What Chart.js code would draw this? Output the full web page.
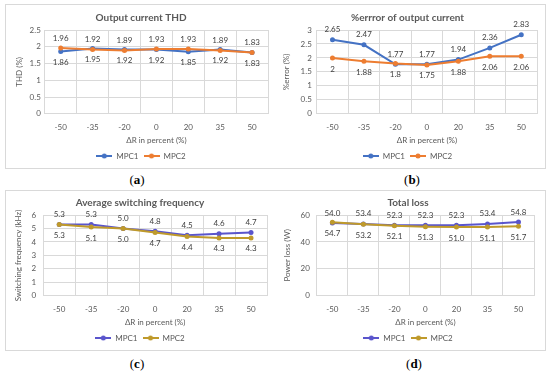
<!DOCTYPE html>
<html>
<head>
<meta charset="utf-8">
<script src="https://cdn.jsdelivr.net/npm/chart.js@4/dist/chart.umd.min.js"></script>
<style>
  body { margin: 0; background: #fff; width: 550px; height: 372px; position: relative; overflow: hidden; }
  .box { position: absolute; border: 1px solid #d9d9d9; background: #fff; overflow: hidden; }
  .box canvas { display: block; }
  .cap { position: absolute; width: 60px; text-align: center; font-family: "Liberation Serif", serif; font-size: 13px; color: #000; }
</style>
</head>
<body>
<div class="box" style="left:5px;top:4px;width:269px;height:163px;"><canvas id="chartA" width="269" height="165"></canvas></div>
<div class="box" style="left:275px;top:4px;width:270px;height:163px;border-left:none;"><canvas id="chartB" width="270" height="165"></canvas></div>
<div class="box" style="left:5px;top:190px;width:269px;height:159px;"><canvas id="chartC" width="269" height="161"></canvas></div>
<div class="box" style="left:275px;top:190px;width:270px;height:159px;border-left:none;"><canvas id="chartD" width="270" height="161"></canvas></div>
<div class="cap" style="left:107px;top:172px;">(<b>a</b>)</div>
<div class="cap" style="left:382px;top:172px;">(<b>b</b>)</div>
<div class="cap" style="left:107px;top:356px;">(<b>c</b>)</div>
<div class="cap" style="left:384px;top:356px;">(<b>d</b>)</div>
<script>
// categories
const xLabels = ['-50', '-35', '-20', '0', '20', '35', '50'];

// (a) output current THD (%)
const thdMpc1 = [1.86, 1.95, 1.92, 1.92, 1.85, 1.92, 1.83];
const thdMpc2 = [1.96, 1.92, 1.89, 1.93, 1.93, 1.89, 1.83];

// (b) %error of output current
const errMpc1 = [2.65, 2.47, 1.77, 1.77, 1.94, 2.36, 2.83];
const errMpc2 = [2, 1.88, 1.8, 1.75, 1.88, 2.06, 2.06];

// (c) average switching frequency (kHz)
const freqMpc1 = [5.3, 5.3, 5.0, 4.8, 4.5, 4.6, 4.7];
const freqMpc2 = [5.3, 5.1, 5.0, 4.7, 4.4, 4.3, 4.3];

// (d) total loss (W)
const lossMpc1 = [54.0, 53.4, 52.3, 52.3, 52.3, 53.4, 54.8];
const lossMpc2 = [54.7, 53.2, 52.1, 51.3, 51.0, 51.1, 51.7];

const FONT = 'Lato';
const GRID = '#d9d9d9';
const TXT = '#595959';

// value labels above one series, below the other
const pointLabels = {
  id: 'pointLabels',
  afterDatasetsDraw(chart, args, opts) {
    const ctx = chart.ctx;
    ctx.save();
    ctx.font = '8px ' + FONT;
    ctx.fillStyle = '#404040';
    ctx.textAlign = 'center';
    ctx.textBaseline = 'middle';
    chart.data.datasets.forEach((ds, i) => {
      const meta = chart.getDatasetMeta(i);
      const up = i === opts.above;
      meta.data.forEach((pt, j) => {
        const y = up ? pt.y - 10 : pt.y + 11;
        ctx.fillText(opts.fmt(ds.data[j]), pt.x, y);
      });
    });
    ctx.restore();
  }
};

function legendIcon(color) {
  const c = document.createElement('canvas');
  c.width = 16; c.height = 6;
  const g = c.getContext('2d');
  g.strokeStyle = color;
  g.lineWidth = 2;
  g.beginPath(); g.moveTo(0, 3); g.lineTo(16, 3); g.stroke();
  g.fillStyle = color;
  g.beginPath(); g.arc(8, 3, 2.5, 0, Math.PI * 2); g.fill();
  return c;
}

function makeChart(id, title, yTitle, d1, d2, c1, c2, yMax, yStep, above, fmt, pad, yTitlePad, yTickPad) {
  const ctx = document.getElementById(id).getContext('2d');
  return new Chart(ctx, {
    type: 'line',
    data: {
      labels: xLabels,
      datasets: [
        { label: 'MPC1', data: d1, borderColor: c1, backgroundColor: c1, borderWidth: 2,
          pointRadius: 2.5, pointBorderWidth: 0, order: 1 },
        { label: 'MPC2', data: d2, borderColor: c2, backgroundColor: c2, borderWidth: 2,
          pointRadius: 2.5, pointBorderWidth: 0, order: 0 }
      ]
    },
    options: {
      responsive: false,
      animation: false,
      layout: { padding: pad },
      plugins: {
        title: { display: true, text: title, color: TXT, font: { family: FONT, size: 10, weight: 'bold' },
                 padding: { top: 4, bottom: 6 } },
        legend: {
          position: 'bottom',
          labels: {
            usePointStyle: true,
            pointStyleWidth: 16,
            boxHeight: 6,
            padding: 5,
            color: TXT,
            font: { family: FONT, size: 8 },
            generateLabels(chart) {
              return chart.data.datasets.map((ds, i) => ({
                text: ds.label,
                pointStyle: legendIcon(ds.borderColor),
                fillStyle: ds.borderColor,
                strokeStyle: ds.borderColor,
                lineWidth: 0,
                fontColor: TXT,
                datasetIndex: i
              }));
            }
          }
        },
        tooltip: { enabled: false },
        pointLabels: { above: above, fmt: fmt }
      },
      scales: {
        x: {
          offset: true,
          grid: { color: GRID, offset: true, drawTicks: true, tickLength: 9, tickColor: 'rgba(0,0,0,0)' },
          border: { color: GRID },
          ticks: { color: TXT, font: { family: FONT, size: 8 }, padding: 0 },
          title: { display: true, text: 'ΔR in percent (%)', color: TXT, font: { family: FONT, size: 8 },
                   padding: { top: 3, bottom: 2 } }
        },
        y: {
          min: 0, max: yMax,
          grid: { color: GRID, drawTicks: false },
          border: { display: false },
          ticks: { stepSize: yStep, color: TXT, font: { family: FONT, size: 8 }, padding: yTickPad,
                   callback: v => String(v) },
          title: { display: true, text: yTitle, color: TXT, font: { family: FONT, size: 8 }, padding: yTitlePad }
        }
      }
    },
    plugins: [pointLabels]
  });
}

const plain = v => String(v);
const oneDec = v => v.toFixed(1);

makeChart('chartA', 'Output current THD', 'THD (%)', thdMpc1, thdMpc2, '#4472c4', '#ed7d31', 2.5, 0.5, 1, plain,
  { left: 8, right: 7, top: 3, bottom: 0 }, 1, 4);
makeChart('chartB', '%errror of output current', '%error (%)', errMpc1, errMpc2, '#4472c4', '#ed7d31', 3, 0.5, 0, plain,
  { left: 3, right: 8, top: 3, bottom: 0 }, 4, 5);
makeChart('chartC', 'Average switching frequency', 'Switching frequency (kHz)', freqMpc1, freqMpc2, '#5a55cc', '#bf9a2b', 6, 1, 0, oneDec,
  { left: 7, right: 8, top: 2, bottom: 0 }, 1, 7);
makeChart('chartD', 'Total loss', 'Power loss (W)', lossMpc1, lossMpc2, '#5a55cc', '#bf9a2b', 60, 20, 0, oneDec,
  { left: 7, right: 11, top: 2, bottom: 0 }, 1, 7);
</script>
</body>
</html>
